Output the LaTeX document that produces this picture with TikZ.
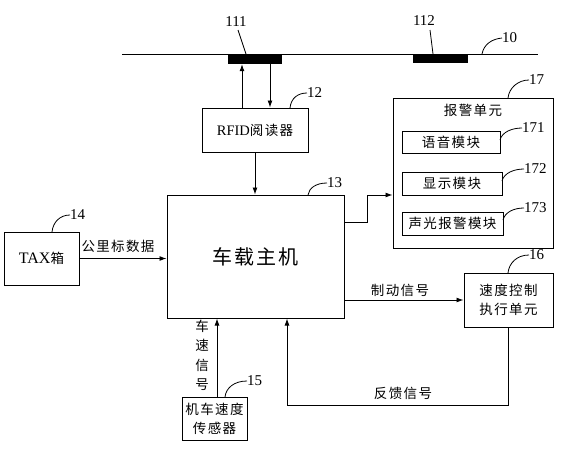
\documentclass[tikz,border=0pt]{standalone}
\usepackage{fontspec}
\setmainfont{Liberation Serif}
\newfontfamily\cjk[LetterSpace=10]{Noto Sans CJK SC}
\usetikzlibrary{arrows.meta}
\begin{document}
\begin{tikzpicture}[x=1pt,y=-1pt,
  box/.style={draw,line width=1pt,inner sep=0pt,font=\fontsize{13.5}{16}\selectfont\cjk},
  tag/.style={fill=black,inner sep=0pt},
  conn/.style={line width=0.9pt,-{Latex[length=7pt,width=5pt]}},
  plain/.style={line width=0.9pt},
  lead/.style={line width=0.8pt},
  num/.style={font=\fontsize{15}{17}\selectfont,inner sep=0pt},
  lbl/.style={font=\fontsize{13.5}{16}\selectfont\cjk,inner sep=0pt}]
\useasboundingbox (0,0) rectangle (562,450);
% track
\coordinate (tl) at (122,54);
\coordinate (tr) at (538,54);
\draw[plain] (tl) -- (tr);
\node[tag,minimum width=54pt,minimum height=10pt] (tag1) at (255,59) {};
\node[tag,minimum width=55pt,minimum height=9pt] (tag2) at (440.5,58.5) {};
% boxes
\node[box,minimum width=106pt,minimum height=44pt] (rfid) at (255,130) {{\fontsize{14.5}{16}\selectfont\rmfamily RFID}阅读器};
\node[box,minimum width=177pt,minimum height=123pt,font=\fontsize{20}{24}\selectfont\cjk] (main) at (255.5,256.5) {车载主机};
\node[box,minimum width=160pt,minimum height=150pt] (alarm) at (473,173) {};
\node[lbl] (alarmt) at (473,110) {报警单元};
\node[box,minimum width=98pt,minimum height=22pt] (m1) at (451,142) {语音模块};
\node[box,minimum width=100pt,minimum height=23pt] (m2) at (452,183.5) {显示模块};
\node[box,minimum width=101pt,minimum height=23pt] (m3) at (452.5,223.5) {声光报警模块};
\node[box,minimum width=75pt,minimum height=53pt] (tax) at (41.5,258.5) {{\fontsize{16}{18}\selectfont\rmfamily TAX}箱};
\node[box,minimum width=89pt,minimum height=54pt,align=center,font=\fontsize{13.5}{19}\selectfont\cjk] (spd) at (508.5,300) {速度控制\\执行单元};
\node[box,minimum width=65pt,minimum height=43pt,align=center,font=\fontsize{13.5}{19}\selectfont\cjk] (sens) at (214.5,418.5) {机车速度\\传感器};
% connectors
\draw[conn] ([xshift=-13pt]rfid.north) -- ([xshift=-13pt]rfid.north |- tag1.south);
\draw[conn] ([xshift=15pt]rfid.north |- tag1.south) -- ([xshift=15pt]rfid.north);
\draw[conn] (rfid.south) -- (rfid.south |- main.north);
\coordinate (a1) at (367,222);
\coordinate (a2) at (367,195);
\draw[conn] (main.east |- a1) -- (a1) -- (a2) -- (alarm.west |- a2);
\draw[conn] (tax.east) -- (main.west |- tax.east);
\draw[conn] (main.east |- spd.west) -- (spd.west);
\coordinate (f1) at (287,405);
\draw[conn] (spd.south) |- (f1) -- (f1 |- main.south);
\draw[conn] ([xshift=2.5pt]sens.north) -- ([xshift=2.5pt]sens.north |- main.south);
% connector labels
\node[lbl] (l1) at (118,246) {公里标数据};
\node[lbl] (l2) at (400,290) {制动信号};
\node[lbl] (l3) at (403,393) {反馈信号};
\node[lbl,align=center,font=\fontsize{13.5}{19.5}\selectfont\cjk] (l4) at (202,355.5) {车\\速\\信\\号};
% reference numbers
\node[num] (n111) at (236,22) {111};
\node[num] (n112) at (424,21) {112};
\node[num,anchor=west] (n10) at (502,38) {10};
\node[num,anchor=west] (n12) at (307,93) {12};
\node[num,anchor=west] (n13) at (327,183) {13};
\node[num,anchor=west] (n14) at (70,215) {14};
\node[num,anchor=west] (n15) at (247,381) {15};
\node[num,anchor=west] (n16) at (529,255) {16};
\node[num,anchor=west] (n17) at (529,80) {17};
\node[num,anchor=west] (n171) at (522,128) {171};
\node[num,anchor=west] (n172) at (524,169) {172};
\node[num,anchor=west] (n173) at (524,208) {173};
% leaders
\draw[lead] (238,30) -- (246,54);
\draw[lead] (430,30) -- (433,54);
\draw[lead] (482,54) .. controls (484,44) and (492,39) .. (n10.west);
\draw[lead] (290,108) .. controls (291,98) and (298,93) .. (n12.west);
\draw[lead] (308,195) .. controls (309,188) and (316,183) .. (n13.west);
\draw[lead] (52,232) .. controls (53,222) and (60,215) .. (n14.west);
\draw[lead] (225,397) .. controls (226,388) and (234,381) .. (n15.west);
\draw[lead] (508,273) .. controls (509,263) and (517,255) .. (n16.west);
\draw[lead] (508,98) .. controls (509,88) and (518,80) .. (n17.west);
\draw[lead] (500,140) .. controls (502,132) and (512,128) .. (n171.west);
\draw[lead] (502,181) .. controls (504,173) and (514,169) .. (n172.west);
\draw[lead] (503,220) .. controls (505,212) and (514,208) .. (n173.west);
\end{tikzpicture}
\end{document}
